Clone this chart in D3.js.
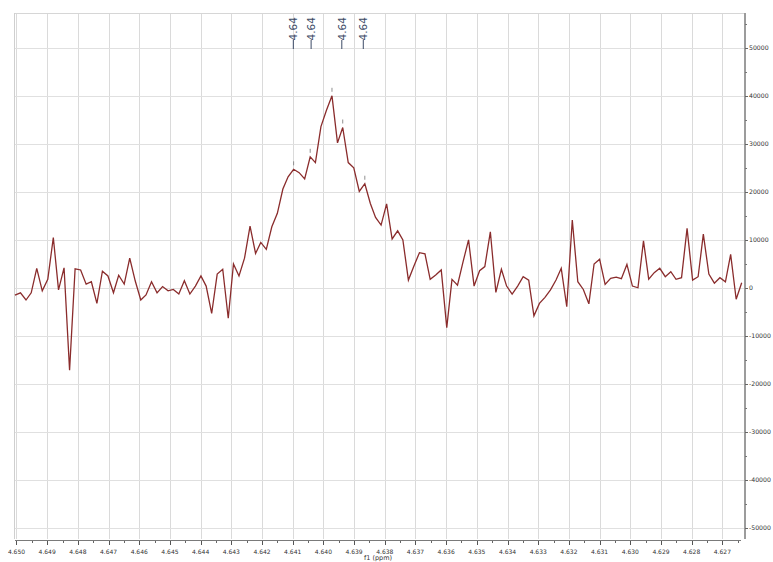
<!DOCTYPE html>
<html>
<head>
<meta charset="utf-8">
<script src="https://cdn.jsdelivr.net/npm/d3@7"></script>
<style>
  html, body { margin: 0; padding: 0; background: #ffffff; }
  svg { display: block; }
</style>
</head>
<body>
<svg id="chart" width="773" height="562"></svg>
<script>
// ---- data ----
const ppm = [
  4.65005, 4.64987, 4.64969, 4.64952, 4.64934, 4.64916, 4.64898, 4.64880, 4.64863, 4.64845,
  4.64827, 4.64809, 4.64791, 4.64773, 4.64756, 4.64738, 4.64720, 4.64702, 4.64684, 4.64667,
  4.64649, 4.64631, 4.64613, 4.64595, 4.64578, 4.64560, 4.64542, 4.64524, 4.64506, 4.64489,
  4.64471, 4.64453, 4.64435, 4.64417, 4.64399, 4.64382, 4.64364, 4.64346, 4.64328, 4.64310,
  4.64293, 4.64275, 4.64257, 4.64239, 4.64221, 4.64204, 4.64186, 4.64168, 4.64150, 4.64132,
  4.64115, 4.64097, 4.64079, 4.64061, 4.64043, 4.64026, 4.64008, 4.63990, 4.63972, 4.63954,
  4.63937, 4.63919, 4.63901, 4.63883, 4.63865, 4.63847, 4.63830, 4.63812, 4.63794, 4.63776,
  4.63758, 4.63741, 4.63723, 4.63705, 4.63687, 4.63669, 4.63652, 4.63634, 4.63616, 4.63598,
  4.63581, 4.63563, 4.63545, 4.63527, 4.63509, 4.63491, 4.63474, 4.63456, 4.63438, 4.63420,
  4.63403, 4.63385, 4.63367, 4.63349, 4.63331, 4.63314, 4.63296, 4.63278, 4.63260, 4.63242,
  4.63225, 4.63207, 4.63189, 4.63171, 4.63153, 4.63135, 4.63118, 4.63100, 4.63082, 4.63064,
  4.63046, 4.63029, 4.63011, 4.62993, 4.62975, 4.62957, 4.62940, 4.62922, 4.62904, 4.62886,
  4.62868, 4.62851, 4.62833, 4.62815, 4.62797, 4.62779, 4.62762, 4.62744, 4.62726, 4.62708,
  4.62690, 4.62673, 4.62655, 4.62637
];
const intensity = [
  -1500, -1000, -2500, -1000, 4100, -600, 1800, 10500, -400, 4200,
  -17100, 4000, 3750, 800, 1300, -3200, 3500, 2500, -1000, 2650,
  800, 6200, 1450, -2500, -1450, 1300, -1000, 300, -600, -300,
  -1250, 1500, -1250, 400, 2500, 400, -5300, 2900, 3900, -6300,
  5000, 2500, 6200, 12900, 7200, 9500, 8050, 12750, 15550, 20600,
  23150, 24700, 24000, 22700, 27300, 26100, 33600, 37000, 40000, 30200,
  33400, 26100, 25000, 20100, 21700, 17600, 14700, 13100, 17500, 10200,
  11900, 10000, 1650, 4600, 7350, 7100, 1800, 2700, 3750, -8250,
  1800, 600, 5450, 10000, 400, 3600, 4450, 11700, -900, 3900,
  400, -1250, 400, 2350, 1650, -5800, -3200, -1950, -400, 1650,
  4100, -3900, 14150, 1300, -300, -3300, 5000, 6000, 750, 2000,
  2250, 1950, 4900, 400, 50, 9800, 1850, 3200, 4100, 2350,
  3400, 1800, 2150, 12400, 1650, 2350, 11200, 2900, 1000, 2150,
  1300, 7000, -2350, 1100
];
const peakMarkerPpm = [4.64097, 4.64043, 4.63972, 4.63937, 4.63865];
const peakLabelPpm = [4.64098, 4.64040, 4.63940, 4.63870];
const peakLabels = ["4.64", "4.64", "4.64", "4.64"];
const xTickValues = [4.650, 4.649, 4.648, 4.647, 4.646, 4.645, 4.644, 4.643, 4.642, 4.641, 4.640, 4.639,
                     4.638, 4.637, 4.636, 4.635, 4.634, 4.633, 4.632, 4.631, 4.630, 4.629, 4.628, 4.627];
const xTickLabels = ["4.650", "4.649", "4.648", "4.647", "4.646", "4.645", "4.644", "4.643", "4.642", "4.641", "4.640", "4.639",
                     "4.638", "4.637", "4.636", "4.635", "4.634", "4.633", "4.632", "4.631", "4.630", "4.629", "4.628", "4.627"];
const xMinorValues = [4.6495, 4.6485, 4.6475, 4.6465, 4.6455, 4.6445, 4.6435, 4.6425, 4.6415, 4.6405, 4.6395, 4.6385,
                      4.6375, 4.6365, 4.6355, 4.6345, 4.6335, 4.6325, 4.6315, 4.6305, 4.6295, 4.6285, 4.6275, 4.6265];
const yTickValues = [50000, 40000, 30000, 20000, 10000, 0, -10000, -20000, -30000, -40000, -50000];
const yTickLabels = ["50000", "40000", "30000", "20000", "10000", "0", "-10000", "-20000", "-30000", "-40000", "-50000"];
const yMinorValues = [55000, 45000, 35000, 25000, 15000, 5000, -5000, -15000, -25000, -35000, -45000];
const xAxisTitle = "f1 (ppm)";

// ---- layout ----
const svg = d3.select("#chart");
const plot = { left: 14, right: 744, top: 13, bottom: 539 };
const x = d3.scaleLinear().domain([4.650081, 4.626295]).range([plot.left, plot.right]);
const y = d3.scaleLinear().domain([-52237, 57232]).range([plot.bottom, plot.top]);

svg.append("rect").attr("width", 773).attr("height", 562).attr("fill", "#ffffff");

// grid
const grid = svg.append("g").attr("shape-rendering", "crispEdges");
grid.selectAll("line.vg").data(xTickValues).join("line")
  .attr("x1", d => Math.round(x(d)) + 0.5).attr("x2", d => Math.round(x(d)) + 0.5)
  .attr("y1", plot.top).attr("y2", plot.bottom)
  .attr("stroke", "#dadada").attr("stroke-width", 1);
grid.selectAll("line.hg").data(yTickValues).join("line")
  .attr("x1", plot.left).attr("x2", plot.right)
  .attr("y1", d => Math.round(y(d)) + 0.5).attr("y2", d => Math.round(y(d)) + 0.5)
  .attr("stroke", "#e0e0e0").attr("stroke-width", 1);
// frame (top and left)
grid.append("line").attr("x1", plot.left).attr("x2", plot.right).attr("y1", plot.top + 0.5).attr("y2", plot.top + 0.5)
  .attr("stroke", "#d6d6d6");
grid.append("line").attr("x1", plot.left + 0.5).attr("x2", plot.left + 0.5).attr("y1", plot.top).attr("y2", plot.bottom)
  .attr("stroke", "#cfcfcf");

// spectrum line
const pts = ppm.map((p, i) => [p, intensity[i]]);
const line = d3.line().x(d => x(d[0])).y(d => y(d[1]));
svg.append("path").datum(pts)
  .attr("d", line)
  .attr("fill", "none")
  .attr("stroke", "#8a2c2c")
  .attr("stroke-width", 1.3)
  .attr("stroke-linejoin", "miter");

// peak markers
const nearestVal = p => {
  let best = 0;
  ppm.forEach((q, i) => { if (Math.abs(q - p) < Math.abs(ppm[best] - p)) best = i; });
  return intensity[best];
};
svg.selectAll("line.pm").data(peakMarkerPpm).join("line")
  .attr("x1", d => x(d)).attr("x2", d => x(d))
  .attr("y1", d => y(nearestVal(d)) - 4).attr("y2", d => y(nearestVal(d)) - 8)
  .attr("stroke", "#8f8f8f").attr("stroke-width", 1);

// peak labels
const pl = svg.append("g");
peakLabelPpm.forEach((p, i) => {
  pl.append("line")
    .attr("x1", x(p)).attr("x2", x(p))
    .attr("y1", 49).attr("y2", 40)
    .attr("stroke", "#3c4a66").attr("stroke-width", 1);
  pl.append("text")
    .attr("transform", `translate(${x(p) + 4},${40.5}) rotate(-90)`)
    .attr("text-anchor", "start")
    .attr("font-family", "DejaVu Sans, Verdana, sans-serif")
    .attr("font-size", 10.5)
    .attr("fill", "#3c4a66")
    .text(peakLabels[i]);
});

// right y axis
const ya = svg.append("g").attr("shape-rendering", "crispEdges");
ya.append("line").attr("x1", 744.5).attr("x2", 744.5).attr("y1", plot.top).attr("y2", plot.bottom)
  .attr("stroke", "#9c9c9c").attr("stroke-width", 2);
ya.selectAll("line.yt").data(yTickValues).join("line")
  .attr("x1", 745).attr("x2", 748)
  .attr("y1", d => Math.round(y(d)) + 0.5).attr("y2", d => Math.round(y(d)) + 0.5)
  .attr("stroke", "#666");
ya.selectAll("line.ym").data(yMinorValues).join("line")
  .attr("x1", 745).attr("x2", 747)
  .attr("y1", d => Math.round(y(d)) + 0.5).attr("y2", d => Math.round(y(d)) + 0.5)
  .attr("stroke", "#777");
svg.append("g").selectAll("text").data(yTickValues).join("text")
  .attr("x", 749).attr("y", d => y(d)).attr("dy", "0.35em")
  .attr("font-family", "DejaVu Sans, Verdana, sans-serif")
  .attr("font-size", 6.2)
  .attr("fill", "#333")
  .text((d, i) => yTickLabels[i]);

// bottom x axis
const xa = svg.append("g").attr("shape-rendering", "crispEdges");
xa.append("line").attr("x1", x(4.650) - 1).attr("x2", x(4.6265) + 3).attr("y1", 540.5).attr("y2", 540.5)
  .attr("stroke", "#7a7a7a");
xa.selectAll("line.xt").data(xTickValues).join("line")
  .attr("x1", d => Math.round(x(d)) + 0.5).attr("x2", d => Math.round(x(d)) + 0.5)
  .attr("y1", 541).attr("y2", 545)
  .attr("stroke", "#555");
xa.selectAll("line.xm").data(xMinorValues).join("line")
  .attr("x1", d => Math.round(x(d)) + 0.5).attr("x2", d => Math.round(x(d)) + 0.5)
  .attr("y1", 541).attr("y2", 543)
  .attr("stroke", "#666");
svg.append("g").selectAll("text").data(xTickValues).join("text")
  .attr("x", d => Math.max(x(d), 9.5)).attr("y", 553.5)
  .attr("text-anchor", "middle")
  .attr("font-family", "DejaVu Sans, Verdana, sans-serif")
  .attr("font-size", 6)
  .attr("fill", "#333")
  .text((d, i) => xTickLabels[i]);
svg.append("text")
  .attr("x", 378).attr("y", 560)
  .attr("text-anchor", "middle")
  .attr("font-family", "DejaVu Sans, Verdana, sans-serif")
  .attr("font-size", 6.5)
  .attr("fill", "#333")
  .text(xAxisTitle);
</script>
</body>
</html>
